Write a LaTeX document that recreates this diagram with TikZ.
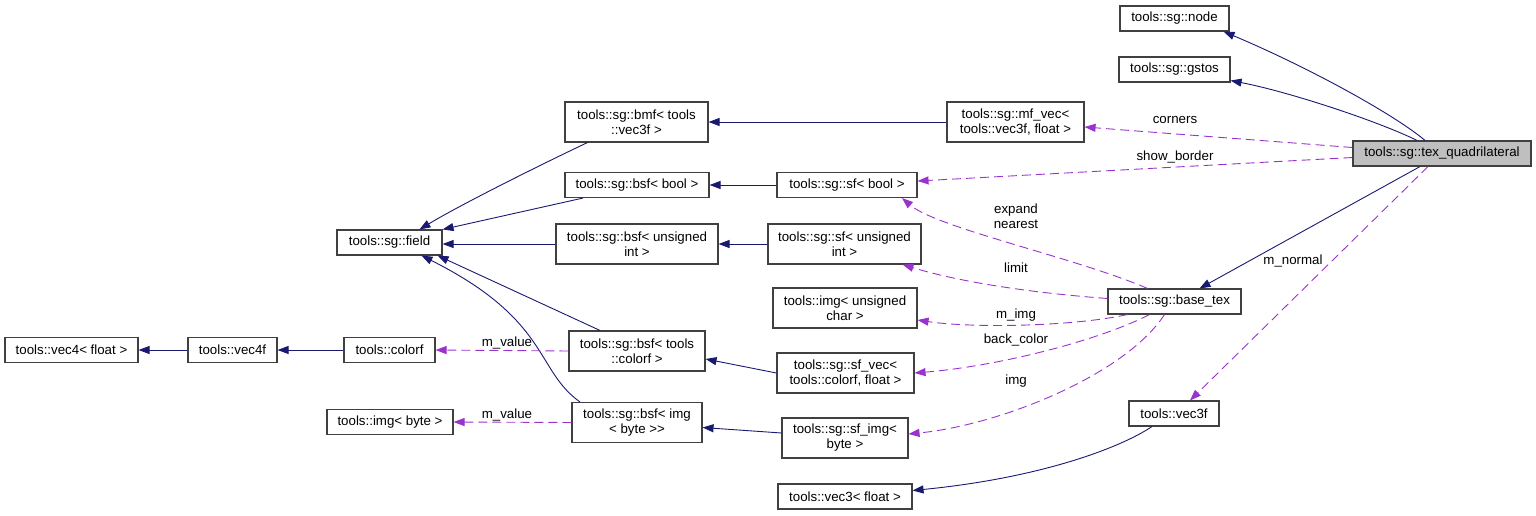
\documentclass[tikz,border=0pt]{standalone}
\usepackage{fontspec}
\setmainfont{Liberation Sans}
\usetikzlibrary{arrows.meta}

\definecolor{edgeblue}{RGB}{25,25,112}
\definecolor{edgepurple}{RGB}{154,50,205}

\begin{document}
\begin{tikzpicture}[
  x=1pt, y=-1pt,
  font=\fontsize{13.3}{15}\selectfont,
  cls/.style   = {draw=black!75, line width=1.1pt, align=center, inner sep=0pt,
                  minimum height=25pt},
  clsii/.style = {cls, minimum height=40pt},
  focus/.style = {cls, fill=black!25},
  inh/.style   = {-{Triangle[length=11pt,width=8pt]}, line width=0.9pt, edgeblue},
  mem/.style   = {-{Triangle[length=11pt,width=8pt]}, line width=0.9pt, edgepurple,
                  dash pattern=on 9pt off 5pt},
  lbl/.style   = {inner sep=1pt, align=center},
]
\useasboundingbox (0,0) rectangle (1536,516);

% =========================== right column ==================================
\node[cls, minimum width=109pt]   (sgnode)  at (1174.5,18.5)  {tools::sg::node};
\node[cls, minimum width=111pt]   (gstos)   at (1174.5,69.5)  {tools::sg::gstos};
\node[focus, minimum width=178pt] (texq)    at (1442,153.5)   {tools::sg::tex\_quadrilateral};
\node[cls, minimum width=133pt]   (basetex) at (1174.5,301.5) {tools::sg::base\_tex};
\node[cls, minimum width=90pt]    (vecf)    at (1174,413.5)   {tools::vec3f};

% =========================== sf column =====================================
\node[clsii, minimum width=137pt] (mfvec)   at (1015.5,122)   {tools::sg::mf\_vec<\\tools::vec3f, float >};
\node[cls, minimum width=140pt]   (sfbool)  at (847,185)      {tools::sg::sf< bool >};
\node[clsii, minimum width=153pt] (sfuint)  at (844.5,244)    {tools::sg::sf< unsigned\\int >};
\node[clsii, minimum width=144pt] (imguc)   at (845,308)      {tools::img< unsigned\\char >};
\node[clsii, minimum width=137pt] (sfvec)   at (845.5,373)    {tools::sg::sf\_vec<\\tools::colorf, float >};
\node[clsii, minimum width=126pt] (sfimg)   at (845,438)      {tools::sg::sf\_img<\\byte >};
\node[cls, minimum width=134pt]   (vecfl)   at (845,496.5)    {tools::vec3< float >};

% =========================== bsf column ====================================
\node[clsii, minimum width=143pt] (bmf)     at (636.5,122)    {tools::sg::bmf< tools\\::vec3f >};
\node[cls, minimum width=144pt]   (bsfbool) at (637,185)      {tools::sg::bsf< bool >};
\node[clsii, minimum width=162pt] (bsfuint) at (637,244)      {tools::sg::bsf< unsigned\\int >};
\node[clsii, minimum width=136pt] (bsfcol)  at (637,351)      {tools::sg::bsf< tools\\::colorf >};
\node[clsii, minimum width=130pt] (bsfimg)  at (637,422.5)    {tools::sg::bsf< img\\< byte >{}>};

% =========================== left part =====================================
\node[cls, minimum width=105pt]   (field)   at (389.5,242.5)  {tools::sg::field};
\node[cls, minimum width=91pt]    (colorf)  at (389.5,350)    {tools::colorf};
\node[cls, minimum width=126pt]   (imgbyte) at (390,422)      {tools::img< byte >};
\node[cls, minimum width=89pt]    (vecivf)  at (232.5,350)    {tools::vec4f};
\node[cls, minimum width=133pt]   (vecivfl) at (71.5,350)     {tools::vec4< float >};

% =========================== inheritance ===================================
\draw[inh] ([xshift=-17pt]texq.north) .. controls (1395,115) and (1310,68) .. ([xshift=-6pt]sgnode.south east);
\draw[inh] ([xshift=-25pt]texq.north) .. controls (1380,122) and (1290,92) .. ([yshift=2pt]gstos.south east);
\draw[inh] ([xshift=-22pt]texq.south) -- ([xshift=25pt]basetex.north);
\draw[inh] (mfvec) -- (bmf);
\draw[inh] (sfbool) -- (bsfbool);
\draw[inh] (sfuint) -- (bsfuint);
\draw[inh] (sfvec.west) -- ([yshift=-8pt]bsfcol.east);
\draw[inh] ([yshift=5pt]sfimg.west) -- ([yshift=-5pt]bsfimg.east);
\draw[inh] ([xshift=-49pt]bmf.south) .. controls (540,165) and (460,205) .. ([xshift=30pt]field.north);
\draw[inh] ([xshift=-54pt]bsfbool.south) -- (field.north east);
\draw[inh] (bsfuint.west) -- (bsfuint.west -| field.east);
\draw[inh] ([xshift=-37pt]bsfcol.north) -- ([xshift=-5pt]field.south east);
\draw[inh] ([xshift=-57pt]bsfimg.north) .. controls (535,370) and (550,320) .. ([xshift=32pt]field.south);
\draw[inh] (colorf) -- (vecivf);
\draw[inh] (vecivf) -- (vecivfl);
\draw[inh] ([xshift=-22pt]vecf.south) .. controls (1120,448) and (1040,478) .. ([yshift=6pt]vecfl.east);

% =========================== members =======================================
\draw[mem] ([yshift=6pt]texq.west) -- ([yshift=-5pt]mfvec.east);
\draw[mem] ([yshift=-4pt]texq.west) -- ([yshift=4pt]sfbool.east);
\draw[mem] ([xshift=-14pt]texq.south) -- ([xshift=16pt]vecf.north);
\draw[mem] ([xshift=-27pt]basetex.north) .. controls (1077,258) and (937,228) .. ([xshift=55pt]sfbool.south);
\draw[mem] ([yshift=3pt]basetex.west) .. controls (1020,292) and (953,280) .. ([xshift=58pt]sfuint.south);
\draw[mem] ([xshift=-47pt]basetex.south) .. controls (1070,327) and (970,328) .. ([yshift=-12pt]imguc.east);
\draw[mem] ([xshift=-25pt]basetex.south) .. controls (1100,340) and (1000,366) .. (sfvec.east);
\draw[mem] ([xshift=-10pt]basetex.south) .. controls (1125,375) and (1000,425) .. ([yshift=4pt]sfimg.east);
\draw[mem] (bsfcol.west) -- (colorf.east);
\draw[mem] (bsfimg.west) -- (imgbyte.east);

% =========================== edge labels ===================================
\node[lbl] (lcorners) at (1175,120)  {corners};
\node[lbl] (lborder)  at (1175,157)  {show\_border};
\node[lbl] (lnormal)  at (1293,261)  {m\_normal};
\node[lbl] (lexpand)  at (1016,216)  {expand\\nearest};
\node[lbl] (llimit)   at (1016,268)  {limit};
\node[lbl] (lmimg)    at (1016,315)  {m\_img};
\node[lbl] (lback)    at (1016,340)  {back\_color};
\node[lbl] (limg)     at (1016,381)  {img};
\node[lbl] (lvalcol)  at (507,343)   {m\_value};
\node[lbl] (lvalimg)  at (507,415)   {m\_value};

\end{tikzpicture}
\end{document}
